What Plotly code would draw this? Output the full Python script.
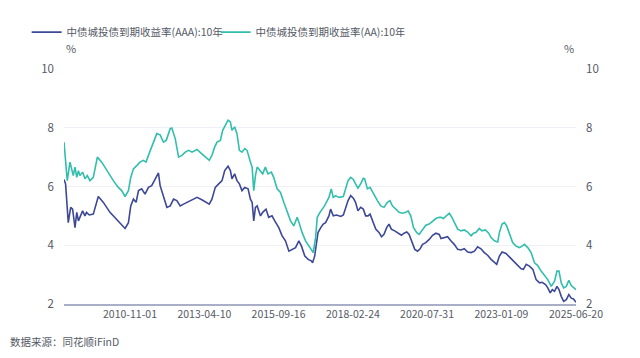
import plotly.graph_objects as go

# ---- data ----
aaa_dates = [
    "2008-09-01", "2008-09-20", "2008-10-22", "2008-11-20", "2008-12-13", "2009-01-11", "2009-02-01",
    "2009-02-21", "2009-03-18", "2009-04-12", "2009-05-10", "2009-05-29", "2009-07-01", "2009-08-18",
    "2009-10-17", "2009-12-17", "2010-03-06", "2010-05-25", "2010-07-24", "2010-09-03", "2010-10-13",
    "2010-11-10", "2010-12-12", "2011-01-13", "2011-02-11", "2011-03-21", "2011-04-30", "2011-06-10",
    "2011-07-19", "2011-08-29", "2011-10-08", "2011-10-28", "2011-12-07", "2012-01-17", "2012-02-26",
    "2012-04-06", "2012-05-15", "2012-06-25", "2012-08-04", "2012-09-14", "2012-10-23", "2012-11-13",
    "2013-01-12", "2013-03-11", "2013-05-10", "2013-06-08", "2013-07-10", "2013-08-19", "2013-09-29",
    "2013-11-08", "2013-12-10", "2014-01-19", "2014-02-16", "2014-03-07", "2014-04-08", "2014-05-06",
    "2014-06-04", "2014-07-05", "2014-08-07", "2014-09-16", "2014-10-14", "2014-11-04", "2014-11-23",
    "2014-12-13", "2015-01-03", "2015-02-12", "2015-03-10", "2015-04-19", "2015-05-21", "2015-06-30",
    "2015-08-02", "2015-09-19", "2015-10-29", "2015-12-08", "2016-01-18", "2016-02-27", "2016-04-07",
    "2016-05-16", "2016-06-17", "2016-07-27", "2016-09-06", "2016-10-16", "2016-10-28", "2016-11-22",
    "2016-12-16", "2017-01-01", "2017-02-03", "2017-03-05", "2017-04-02", "2017-04-22", "2017-05-12",
    "2017-06-01", "2017-07-03", "2017-08-12", "2017-09-30", "2017-11-01", "2017-11-29", "2017-12-27",
    "2018-01-28", "2018-03-01", "2018-03-27", "2018-04-25", "2018-05-27", "2018-06-28", "2018-07-26",
    "2018-08-23", "2018-09-17", "2018-10-15", "2018-11-24", "2019-01-04", "2019-02-01", "2019-03-03",
    "2019-04-04", "2019-05-02", "2019-05-30", "2019-07-09", "2019-08-18", "2019-09-28", "2019-10-30",
    "2019-12-01", "2019-12-29", "2020-02-08", "2020-03-06", "2020-04-08", "2020-05-09", "2020-06-07",
    "2020-07-16", "2020-08-26", "2020-10-05", "2020-11-14", "2020-12-24", "2021-01-14", "2021-02-23",
    "2021-04-03", "2021-05-12", "2021-06-22", "2021-08-02", "2021-09-11", "2021-10-20", "2021-11-30",
    "2022-01-10", "2022-02-19", "2022-03-29", "2022-05-08", "2022-06-17", "2022-07-27", "2022-09-06",
    "2022-10-16", "2022-11-13", "2022-12-15", "2023-01-16", "2023-03-04", "2023-04-21", "2023-06-12",
    "2023-07-22", "2023-09-01", "2023-09-29", "2023-11-01", "2023-12-10", "2024-01-20", "2024-02-28",
    "2024-04-09", "2024-05-10", "2024-06-20", "2024-07-17", "2024-08-15", "2024-09-09", "2024-10-06",
    "2024-11-04", "2024-11-28", "2024-12-25", "2025-01-23", "2025-02-24", "2025-03-26", "2025-04-24",
    "2025-05-21", "2025-06-20",
]
aaa_values = [
    6.24, 6.09, 4.77, 5.29, 5.23, 4.60, 5.12,
    4.83, 5.00, 5.17, 5.00, 5.12, 5.03, 5.06,
    5.66, 5.46, 5.12, 4.89, 4.72, 4.57, 4.77,
    5.34, 5.57, 5.46, 5.86, 5.92, 5.74, 5.97,
    6.03, 6.26, 6.46, 6.03, 5.69, 5.29, 5.34,
    5.57, 5.52, 5.34, 5.40, 5.46, 5.52, 5.55,
    5.63, 5.55, 5.44, 5.40, 5.57, 5.97, 6.09,
    6.20, 6.54, 6.69, 6.54, 6.26, 6.43, 6.20,
    6.09, 5.86, 5.97, 5.92, 5.57, 5.46, 4.83,
    5.29, 5.34, 5.00, 5.12, 5.23, 4.95, 5.00,
    4.83, 4.60, 4.32, 4.15, 3.80, 3.86, 3.92,
    4.15, 3.97, 3.63, 3.52, 3.46, 3.40, 3.63,
    4.09, 4.43, 4.60, 4.72, 4.77, 4.89, 5.00,
    5.23, 5.00, 5.03, 4.98, 5.03, 5.29, 5.52,
    5.69, 5.60, 5.46, 5.17, 5.29, 5.23, 5.00,
    5.00, 5.06, 4.83, 4.55, 4.43, 4.29, 4.37,
    4.60, 4.72, 4.55, 4.49, 4.41, 4.34, 4.41,
    4.45, 4.37, 4.09, 3.86, 3.80, 3.88, 4.03,
    4.09, 4.20, 4.34, 4.41, 4.37, 4.23, 4.26,
    4.29, 4.15, 4.03, 3.86, 3.84, 3.88, 3.77,
    3.75, 3.80, 3.95, 3.88, 3.75, 3.66, 3.52,
    3.40, 3.35, 3.63, 3.77, 3.72, 3.58, 3.43,
    3.29, 3.20, 3.18, 3.35, 3.29, 3.18, 2.83,
    2.72, 2.74, 2.66, 2.55, 2.38, 2.49, 2.43,
    2.60, 2.49, 2.26, 2.09, 2.15, 2.32, 2.20,
    2.17, 2.06,
]

aa_dates = [
    "2008-09-01", "2008-10-10", "2008-11-12", "2008-12-21", "2009-01-11", "2009-02-01", "2009-02-21",
    "2009-03-11", "2009-04-12", "2009-05-10", "2009-06-07", "2009-07-09", "2009-08-18", "2009-10-06",
    "2009-11-27", "2010-01-26", "2010-04-15", "2010-06-14", "2010-07-24", "2010-09-03", "2010-10-13",
    "2010-11-10", "2010-12-12", "2011-01-21", "2011-03-01", "2011-04-10", "2011-05-12", "2011-06-10",
    "2011-07-19", "2011-09-18", "2011-10-28", "2011-12-07", "2012-01-09", "2012-02-26", "2012-03-16",
    "2012-04-26", "2012-06-05", "2012-07-15", "2012-08-24", "2012-10-03", "2012-11-13", "2013-01-12",
    "2013-03-11", "2013-05-10", "2013-06-08", "2013-07-10", "2013-08-11", "2013-09-09", "2013-10-19",
    "2013-11-16", "2013-12-18", "2014-01-19", "2014-02-16", "2014-03-07", "2014-04-08", "2014-05-06",
    "2014-06-04", "2014-07-05", "2014-08-07", "2014-09-04", "2014-10-14", "2014-11-04", "2014-11-23",
    "2014-12-13", "2015-01-03", "2015-02-12", "2015-03-10", "2015-04-11", "2015-05-13", "2015-06-22",
    "2015-07-20", "2015-08-30", "2015-10-09", "2015-11-18", "2015-12-28", "2016-02-07", "2016-03-17",
    "2016-04-26", "2016-05-24", "2016-06-25", "2016-08-05", "2016-09-14", "2016-10-24", "2016-11-05",
    "2016-12-03", "2016-12-23", "2017-01-25", "2017-02-23", "2017-03-20", "2017-04-22", "2017-05-12",
    "2017-06-09", "2017-07-03", "2017-07-31", "2017-09-10", "2017-11-01", "2017-11-29", "2017-12-27",
    "2018-01-28", "2018-03-01", "2018-03-27", "2018-04-25", "2018-05-27", "2018-06-28", "2018-07-14",
    "2018-08-16", "2018-09-17", "2018-11-05", "2018-12-14", "2019-01-23", "2019-03-03", "2019-04-12",
    "2019-05-14", "2019-06-11", "2019-07-21", "2019-08-31", "2019-10-10", "2019-11-19", "2019-12-17",
    "2020-01-18", "2020-02-20", "2020-03-30", "2020-04-27", "2020-06-07", "2020-07-16", "2020-08-26",
    "2020-10-05", "2020-11-14", "2020-12-24", "2021-01-14", "2021-02-11", "2021-03-13", "2021-04-23",
    "2021-05-25", "2021-06-22", "2021-08-02", "2021-09-11", "2021-10-20", "2021-11-30", "2022-01-10",
    "2022-02-07", "2022-03-09", "2022-04-18", "2022-05-20", "2022-06-29", "2022-08-09", "2022-09-06",
    "2022-10-16", "2022-11-25", "2022-12-15", "2023-01-16", "2023-02-14", "2023-03-12", "2023-04-13",
    "2023-05-23", "2023-07-02", "2023-08-12", "2023-09-13", "2023-10-11", "2023-11-20", "2023-12-30",
    "2024-02-09", "2024-03-19", "2024-04-28", "2024-06-08", "2024-07-17", "2024-08-27", "2024-10-06",
    "2024-11-04", "2024-11-28", "2024-12-25", "2025-01-23", "2025-02-24", "2025-03-26", "2025-04-24",
    "2025-05-21", "2025-06-20",
]
aa_values = [
    7.51, 6.20, 6.83, 6.37, 6.66, 6.31, 6.54,
    6.37, 6.49, 6.26, 6.37, 6.20, 6.31, 7.00,
    6.83, 6.54, 6.20, 5.97, 5.86, 5.66, 5.86,
    6.31, 6.60, 6.71, 6.83, 6.89, 6.83, 7.06,
    7.34, 7.80, 7.76, 7.51, 7.57, 7.97, 7.99,
    7.63, 7.00, 7.06, 7.17, 7.23, 7.17, 7.26,
    7.11, 6.97, 6.89, 7.06, 7.34, 7.51, 7.57,
    7.91, 8.08, 8.26, 8.20, 7.91, 8.03, 7.80,
    7.23, 7.17, 7.29, 7.23, 6.83, 6.66, 5.86,
    6.37, 6.66, 6.54, 6.43, 6.66, 6.43, 6.49,
    6.31, 5.92, 5.80, 5.46, 5.12, 4.83, 4.66,
    4.95, 4.72, 4.43, 4.15, 3.97, 3.80, 3.75,
    4.26, 4.95, 5.12, 5.23, 5.34, 5.52, 5.63,
    5.92, 5.63, 5.69, 5.63, 5.66, 5.92, 6.20,
    6.31, 6.24, 6.09, 5.94, 6.09, 6.28, 6.26,
    5.92, 5.97, 5.69, 5.52, 5.34, 5.29, 5.46,
    5.52, 5.34, 5.23, 5.12, 5.09, 5.12, 5.17,
    5.00, 4.60, 4.43, 4.37, 4.55, 4.68, 4.72,
    4.83, 4.91, 4.95, 4.95, 4.91, 5.00, 5.09,
    4.95, 4.77, 4.55, 4.49, 4.52, 4.45, 4.32,
    4.41, 4.43, 4.57, 4.49, 4.52, 4.41, 4.26,
    4.15, 4.11, 4.43, 4.72, 4.77, 4.66, 4.37,
    4.09, 3.97, 3.92, 3.97, 4.03, 3.92, 3.75,
    3.40, 3.31, 3.12, 2.95, 2.83, 2.60, 2.78,
    3.12, 3.12, 2.72, 2.55, 2.60, 2.81, 2.63,
    2.55, 2.49,
]

x_tick_dates = ["2010-11-01", "2013-04-10", "2015-09-16", "2018-02-24",
                "2020-07-31", "2023-01-09", "2025-06-20"]
y_ticks = [2, 4, 6, 8, 10]

series_names = ["中债城投债到期收益率(AAA):10年", "中债城投债到期收益率(AA):10年"]
source_text = "数据来源：同花顺iFinD"

# ---- styling ----
C_AAA = "#3d4896"
C_AA = "#31bfac"
FONT = "Noto Sans CJK SC, Noto Sans, sans-serif"
TXT = "#555a66"
GRID = "#eef0f6"

fig = go.Figure()
fig.add_trace(go.Scatter(x=aaa_dates, y=aaa_values, mode="lines", name=series_names[0],
                         line=dict(color=C_AAA, width=1.6)))
fig.add_trace(go.Scatter(x=aa_dates, y=aa_values, mode="lines", name=series_names[1],
                         line=dict(color=C_AA, width=1.6), yaxis="y2"))

fig.update_layout(
    width=640, height=358,
    margin=dict(l=64, r=64, t=69, b=54, autoexpand=False),
    paper_bgcolor="white", plot_bgcolor="white",
    font=dict(family=FONT, size=11, color=TXT),
    showlegend=True,
    legend=dict(orientation="h", x=-0.073, xanchor="left", y=1.157, yanchor="middle",
                font=dict(size=10.5, color=TXT), bgcolor="rgba(0,0,0,0)",
                itemwidth=30, entrywidth=144, tracegroupgap=0),
    xaxis=dict(type="date", range=["2008-09-01", "2025-06-20"],
               tickmode="array", tickvals=x_tick_dates, ticktext=x_tick_dates,
               showgrid=False, zeroline=False, showline=True,
               linecolor="#a8afc6", linewidth=1.5, ticks="",
               tickfont=dict(size=10.5, color=TXT)),
    yaxis=dict(range=[2, 10], tickvals=y_ticks, showgrid=True, gridcolor=GRID,
               gridwidth=1, zeroline=False, showline=False, ticks="",
               ticklabelstandoff=9, tickfont=dict(size=11.5, color=TXT)),
    yaxis2=dict(range=[2, 10], tickvals=y_ticks, overlaying="y", side="right",
                showgrid=False, zeroline=False, showline=False, ticks="",
                ticklabelstandoff=9, tickfont=dict(size=11.5, color=TXT)),
    annotations=[
        dict(text="%", xref="paper", yref="paper", x=0.0, y=1.045, xanchor="left",
             yanchor="bottom", showarrow=False, font=dict(size=11, color=TXT)),
        dict(text="%", xref="paper", yref="paper", x=1.0, y=1.045, xanchor="right",
             yanchor="bottom", showarrow=False, font=dict(size=11, color=TXT)),
        dict(text=source_text, xref="paper", yref="paper", x=-0.11, y=-0.158,
             xanchor="left", yanchor="middle", showarrow=False,
             font=dict(size=10.5, color=TXT)),
    ],
)

fig.write_html("out.html", config={"displayModeBar": False},
               post_script="document.body.style.margin='0';")
